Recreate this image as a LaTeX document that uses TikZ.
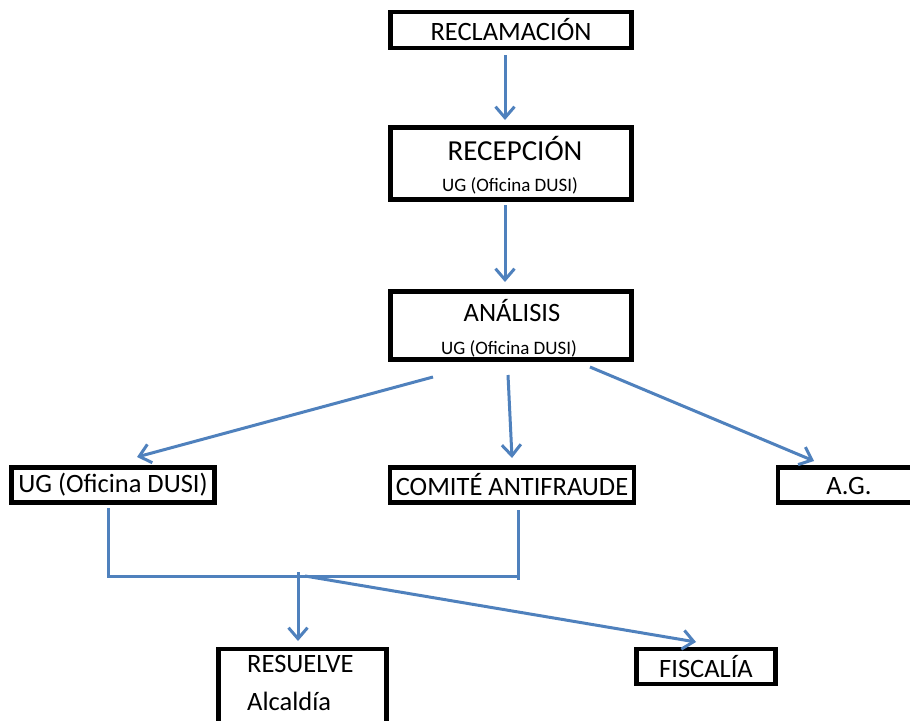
\documentclass[tikz,border=0pt]{standalone}
\usepackage{fontspec}
\setmainfont{Carlito}
\usetikzlibrary{arrows.meta}
\definecolor{linkblue}{HTML}{4F81BD}
\tikzset{
  box/.style={draw=black, line width=4.5pt, inner sep=0pt, fill=white},
  big/.style={font=\fontsize{26.5}{30}\selectfont, inner sep=0pt},
  bigger/.style={font=\fontsize{29}{33}\selectfont, inner sep=0pt},
  small/.style={font=\fontsize{19}{22}\selectfont, inner sep=0pt},
  flow/.style={draw=linkblue, line width=3pt, -{Straight Barb[length=11pt,width=19pt,line width=3pt]}},
  link/.style={draw=linkblue, line width=3pt}
}
\begin{document}
\begin{tikzpicture}[x=1pt,y=-1pt]
\path[use as bounding box, clip] (0,0) rectangle (910,720);
\fill[white] (0,0) rectangle (910,720);

% top chain
\node[box, minimum width=241pt, minimum height=36pt, big] (recl) at (511,30) {RECLAMACIÓN};
\node[box, minimum width=241pt, minimum height=72pt] (recep) at (511,163.5) {};
\node[bigger] (recept) at (515,148) {RECEPCIÓN};
\node[small] (recepu) at (510,186) {UG (Oficina DUSI)};
\node[box, minimum width=241pt, minimum height=68pt] (anal) at (511,325.5) {};
\node[big] (analt) at (512,311) {ANÁLISIS};
\node[small] (analu) at (509,349) {UG (Oficina DUSI)};

% second row
\node[box, minimum width=203pt, minimum height=35pt, big] (ug) at (113,485) {UG (Oficina DUSI)};
\node[box, minimum width=244pt, minimum height=35pt, big] (comite) at (512,485) {COMITÉ ANTIFRAUDE};
\node[box, minimum width=140pt, minimum height=35pt] (ag) at (848,485) {};
\node[big] (agt) at (849,486) {A.G.};

% bottom row
\node[box, minimum width=168pt, minimum height=120pt] (res) at (302.5,709) {};
\node[big, anchor=west] (rest) at (247,664) {RESUELVE};
\node[big, anchor=west] (resa) at (247,701) {Alcaldía};
\node[box, minimum width=139pt, minimum height=35pt, big] (fis) at (706,666.5) {FISCALÍA};

% connectors
\coordinate (a1s) at (505,55);
\coordinate (a1e) at (505,120);
\draw[flow] (a1s) -- (a1e);
\coordinate (a2s) at (505,205);
\coordinate (a2e) at (505,282);
\draw[flow] (a2s) -- (a2e);

\coordinate (l1s) at (433,377);
\coordinate (l1e) at (137,457);
\draw[flow] (l1s) -- (l1e);
\coordinate (m1s) at (508,375);
\coordinate (m1e) at (512,458);
\draw[flow] (m1s) -- (m1e);
\coordinate (r1s) at (590,367);
\coordinate (r1e) at (814,461);
\draw[flow] (r1s) -- (r1e);

\coordinate (ugd) at (108,508);
\coordinate (jl) at (108,576);
\coordinate (jr) at (518,576);
\coordinate (cod) at (518,510);
\coordinate (cob) at (518,580);
\draw[link] (ugd) -- (jl) -- (jr);
\draw[link] (cod) -- (cob);

\coordinate (s1) at (298,572);
\coordinate (s1e) at (298,641);
\draw[flow] (s1) -- (s1e);
\coordinate (s2) at (305,576);
\coordinate (s2e) at (696,642);
\draw[flow] (s2) -- (s2e);
\end{tikzpicture}
\end{document}
